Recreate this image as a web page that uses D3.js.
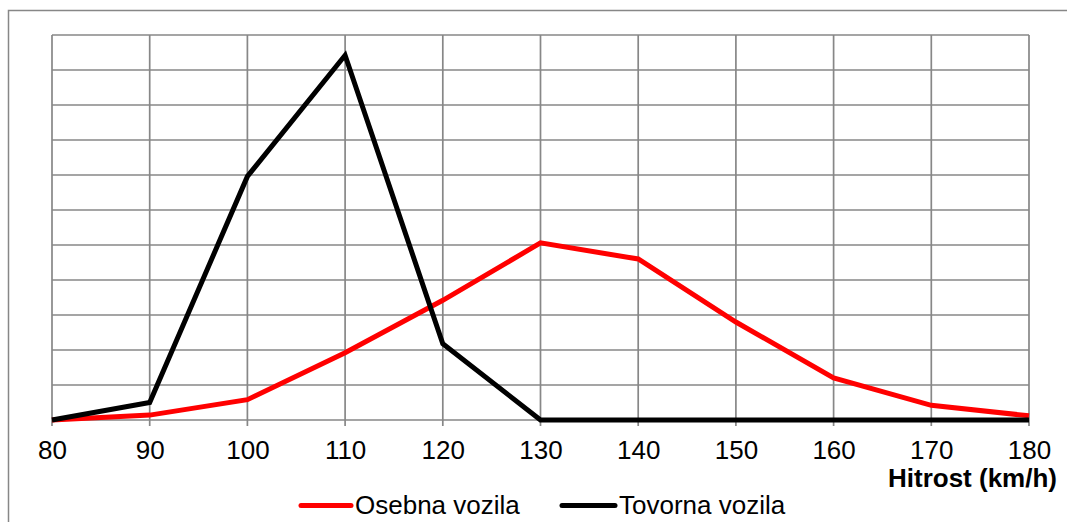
<!DOCTYPE html>
<html>
<head>
<meta charset="utf-8">
<script src="https://cdn.jsdelivr.net/npm/d3@7/dist/d3.min.js"></script>
<style>
  html, body { margin: 0; padding: 0; background: #fff; }
  svg { display: block; font-family: "Liberation Sans", Arial, sans-serif; }
</style>
</head>
<body>
<svg id="chart" width="1067" height="522"></svg>
<script>
// Speed classes (km/h)
const speeds = [80, 90, 100, 110, 120, 130, 140, 150, 160, 170, 180];
// Share of vehicles per speed class (%)
const osebnaVozila = [0, 0.7, 2.9, 9.6, 17.1, 25.3, 23.0, 14.0, 6.0, 2.1, 0.6];
const tovornaVozila = [0, 2.5, 34.8, 52.1, 10.9, 0, 0, 0, 0, 0, 0];
const xTicks = [80, 90, 100, 110, 120, 130, 140, 150, 160, 170, 180];
const yGrid = d3.range(0, 56, 5);

const series = [
  { name: "Osebna vozila", values: osebnaVozila, color: "#ff0000" },
  { name: "Tovorna vozila", values: tovornaVozila, color: "#000000" }
];

const svg = d3.select("#chart");
const gridColor = "#878787";
const fontSize = 26;

// Outer chart frame
svg.append("rect")
  .attr("x", 8.5).attr("y", 10.5)
  .attr("width", 1070).attr("height", 530)
  .attr("fill", "none").attr("stroke", gridColor).attr("stroke-width", 1.5);

const plot = { left: 52, right: 1029, top: 35, bottom: 420 };

const x = d3.scaleLinear().domain([80, 180]).range([plot.left, plot.right]);
const y = d3.scaleLinear().domain([0, 55]).range([plot.bottom, plot.top]);

// Horizontal gridlines
svg.append("g")
  .selectAll("line")
  .data(yGrid)
  .join("line")
  .attr("x1", plot.left).attr("x2", plot.right)
  .attr("y1", d => y(d)).attr("y2", d => y(d))
  .attr("stroke", gridColor).attr("stroke-width", 1.7);

// Vertical gridlines (extend a little below the axis as tick marks)
svg.append("g")
  .selectAll("line")
  .data(xTicks)
  .join("line")
  .attr("x1", d => x(d)).attr("x2", d => x(d))
  .attr("y1", plot.top).attr("y2", plot.bottom + 6)
  .attr("stroke", gridColor).attr("stroke-width", 1.7);

// X-axis tick labels
const xAxis = d3.axisBottom(x).tickValues(xTicks).tickSize(0).tickPadding(0).tickFormat(d3.format("d"));
const gx = svg.append("g").attr("transform", `translate(0,${plot.bottom})`).call(xAxis);
gx.select(".domain").remove();
gx.selectAll("text")
  .attr("y", 0).attr("dy", null)
  .attr("transform", "translate(0,39)")
  .attr("font-size", fontSize).attr("font-family", "'Liberation Sans', Arial, sans-serif")
  .attr("fill", "#000");

// Axis title
svg.append("text")
  .attr("x", 1057).attr("y", 487)
  .attr("text-anchor", "end")
  .attr("font-size", fontSize).attr("font-weight", "bold")
  .attr("fill", "#000")
  .text("Hitrost (km/h)");

// Series lines
const line = d3.line()
  .x((d, i) => x(speeds[i]))
  .y(d => y(d));

svg.append("g")
  .selectAll("path")
  .data(series)
  .join("path")
  .attr("d", d => line(d.values))
  .attr("fill", "none")
  .attr("stroke", d => d.color)
  .attr("stroke-width", 5)
  .attr("stroke-linejoin", "miter");

// Legend
const legendItems = [
  { x0: 301, x1: 351, tx: 355 },
  { x0: 562, x1: 615, tx: 619 }
];
const lg = svg.append("g");
series.forEach((s, i) => {
  const p = legendItems[i];
  lg.append("line")
    .attr("x1", p.x0).attr("x2", p.x1)
    .attr("y1", 505.5).attr("y2", 505.5)
    .attr("stroke", s.color).attr("stroke-width", 5)
    .attr("stroke-linecap", "round");
  lg.append("text")
    .attr("x", p.tx).attr("y", 514)
    .attr("font-size", fontSize).attr("fill", "#000")
    .text(s.name);
});
</script>
</body>
</html>
